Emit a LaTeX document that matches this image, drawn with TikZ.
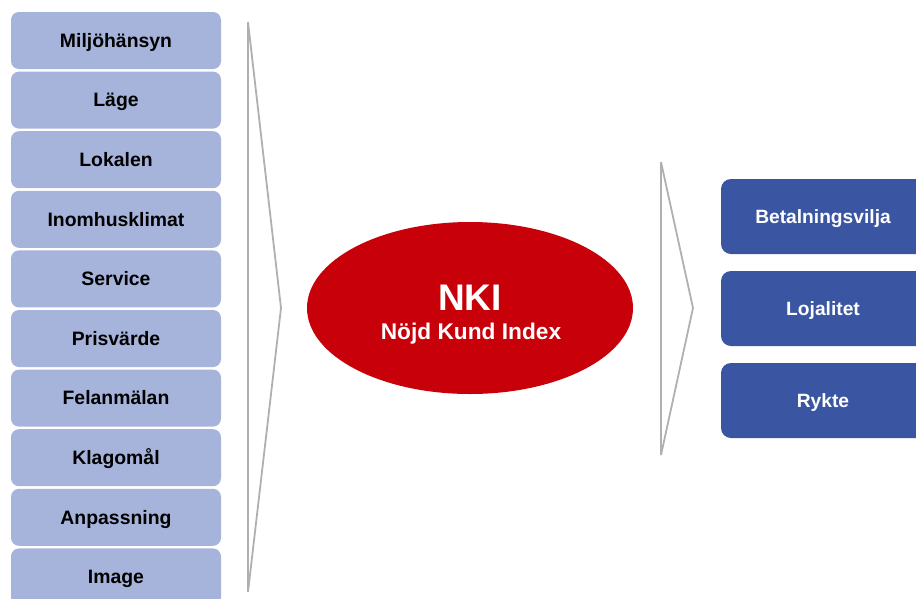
\documentclass[tikz,border=0pt]{standalone}
\usepackage{fontspec}
\setmainfont{Liberation Sans}
\usetikzlibrary{shapes.geometric}
\definecolor{lightbox}{HTML}{A6B4DC}
\definecolor{darkbox}{HTML}{3A56A2}
\definecolor{nkired}{HTML}{C8000A}
\definecolor{chevgray}{HTML}{B0B0B0}
\tikzset{
  leftbox/.style={draw=none, fill=lightbox, rounded corners=8pt, minimum width=210pt, minimum height=57pt, inner sep=0pt, text height=13.6pt, text depth=0pt, font=\fontsize{19.4}{21}\selectfont\bfseries, text=black},
  rightbox/.style={draw=none, fill=darkbox, rounded corners=10pt, minimum width=210pt, minimum height=75pt, inner sep=0pt, text height=13.6pt, text depth=0pt, font=\fontsize{19.2}{21}\selectfont\bfseries, text=white},
  chev/.style={draw=chevgray, line width=1.8pt, line join=miter},
}
\begin{document}
\begin{tikzpicture}[x=1pt,y=-1pt]
\useasboundingbox (0,0) rectangle (916,598);
\clip (0,0) rectangle (916,598);
\fill[white] (0,0) rectangle (916,598);
% left boxes
\foreach \t [count=\i from 0] in {Miljöhänsyn,Läge,Lokalen,Inomhusklimat,Service,Prisvärde,Felanmälan,Klagomål,Anpassning,Image}{
  \node[leftbox] (l\i) at (116,{40.5+59.6*\i}) {\t};
}
% left chevron
\draw[chev] (248,22) -- (248,592) (248,22) -- (281,308) -- (248,592);
% ellipse
\node[ellipse, fill=nkired, minimum width=326pt, minimum height=172pt, inner sep=0pt] (nki) at (470,308) {};
\node[text=white, font=\fontsize{37}{40}\selectfont\bfseries, anchor=base, inner sep=0pt] (nkititle) at (470,310) {NKI};
\node[text=white, font=\fontsize{22.7}{25}\selectfont\bfseries, anchor=base, inner sep=0pt] (nkisub) at (471,339) {Nöjd Kund Index};
% right chevron
\draw[chev] (661,162) -- (661,455) (661,162) -- (693,308) -- (661,455);
% right boxes
\node[rightbox] (r1) at (826,216.5) {\hspace*{-6pt}Betalningsvilja};
\node[rightbox] (r2) at (826,308.5) {\hspace*{-6pt}Lojalitet};
\node[rightbox] (r3) at (826,400.5) {\hspace*{-6pt}Rykte};
\end{tikzpicture}
\end{document}
